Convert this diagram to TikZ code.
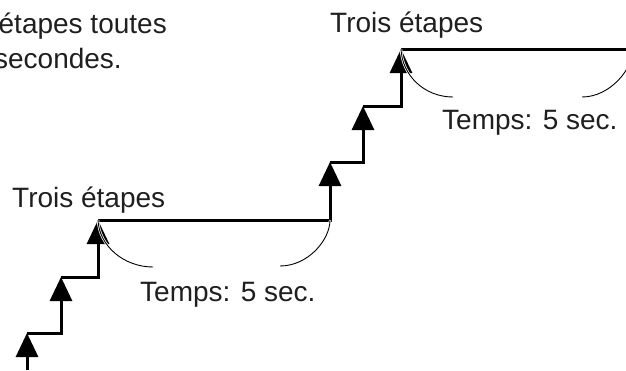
\documentclass[tikz,border=0pt]{standalone}
\usepackage{fontspec}
\setmainfont{Liberation Sans}
\usetikzlibrary{arrows.meta}
\tikzset{
  every picture/.style={font=\fontsize{28}{33}\selectfont},
  tread/.style={line width=3pt},
  rise/.style={line width=3pt,-{Triangle[length=24pt,width=22pt]}},
  span/.style={line width=0.9pt,preaction={draw=white,line width=2.4pt}},
  lbl/.style={inner sep=0pt,text=black!88},
}
\begin{document}
\begin{tikzpicture}[x=1pt,y=-1pt]
  \useasboundingbox (0,0) rectangle (626,370);
  % corners of the stair
  \coordinate (c0) at (27,370);
  \coordinate (c1) at (27,333);
  \coordinate (c2) at (61,333);
  \coordinate (c3) at (61,277);
  \coordinate (c4) at (98,277);
  \coordinate (c5) at (98,220);
  \coordinate (c6) at (330,220);
  \coordinate (c7) at (330,162);
  \coordinate (c8) at (363,162);
  \coordinate (c9) at (363,106);
  \coordinate (c10) at (401,106);
  \coordinate (c11) at (401,49);
  \coordinate (c12) at (633,49);
  % steps
  \draw[rise] (c0) -- (c1);
  \draw[rise] (c1) -- (c2) -- (c3);
  \draw[rise] (c3) -- (c4) -- (c5);
  \draw[rise] (c5) -- (c6) -- (c7);
  \draw[rise] (c7) -- (c8) -- (c9);
  \draw[rise] (c9) -- (c10) -- (c11);
  \draw[tread] (c11) -- (c12);
  % spans
  \draw[span] (c5) .. controls +(1,26) and +(-29,0) .. +(55,47);
  \draw[span] (c6) .. controls +(0,20) and +(28,0) .. +(-50,46);
  \draw[span] (c11) .. controls +(1,26) and +(-29,0) .. +(52,48);
  \draw[span] (c12) .. controls +(0,20) and +(28,0) .. +(-51,48);
  % labels
  \node[lbl,anchor=base east] (note1) at (167,33) {étapes toutes};
  \node[lbl,anchor=base east] (note2) at (122,68) {secondes.};
  \node[lbl,anchor=base west] (steps1) at (12,207) {Trois étapes};
  \node[lbl,anchor=base west] (steps2) at (330,32) {Trois étapes};
  \node[lbl,anchor=base west] (time1) at (140,301) {Temps: 5 sec.};
  \node[lbl,anchor=base west] (time2) at (442,129) {Temps: 5 sec.};
\end{tikzpicture}
\end{document}
